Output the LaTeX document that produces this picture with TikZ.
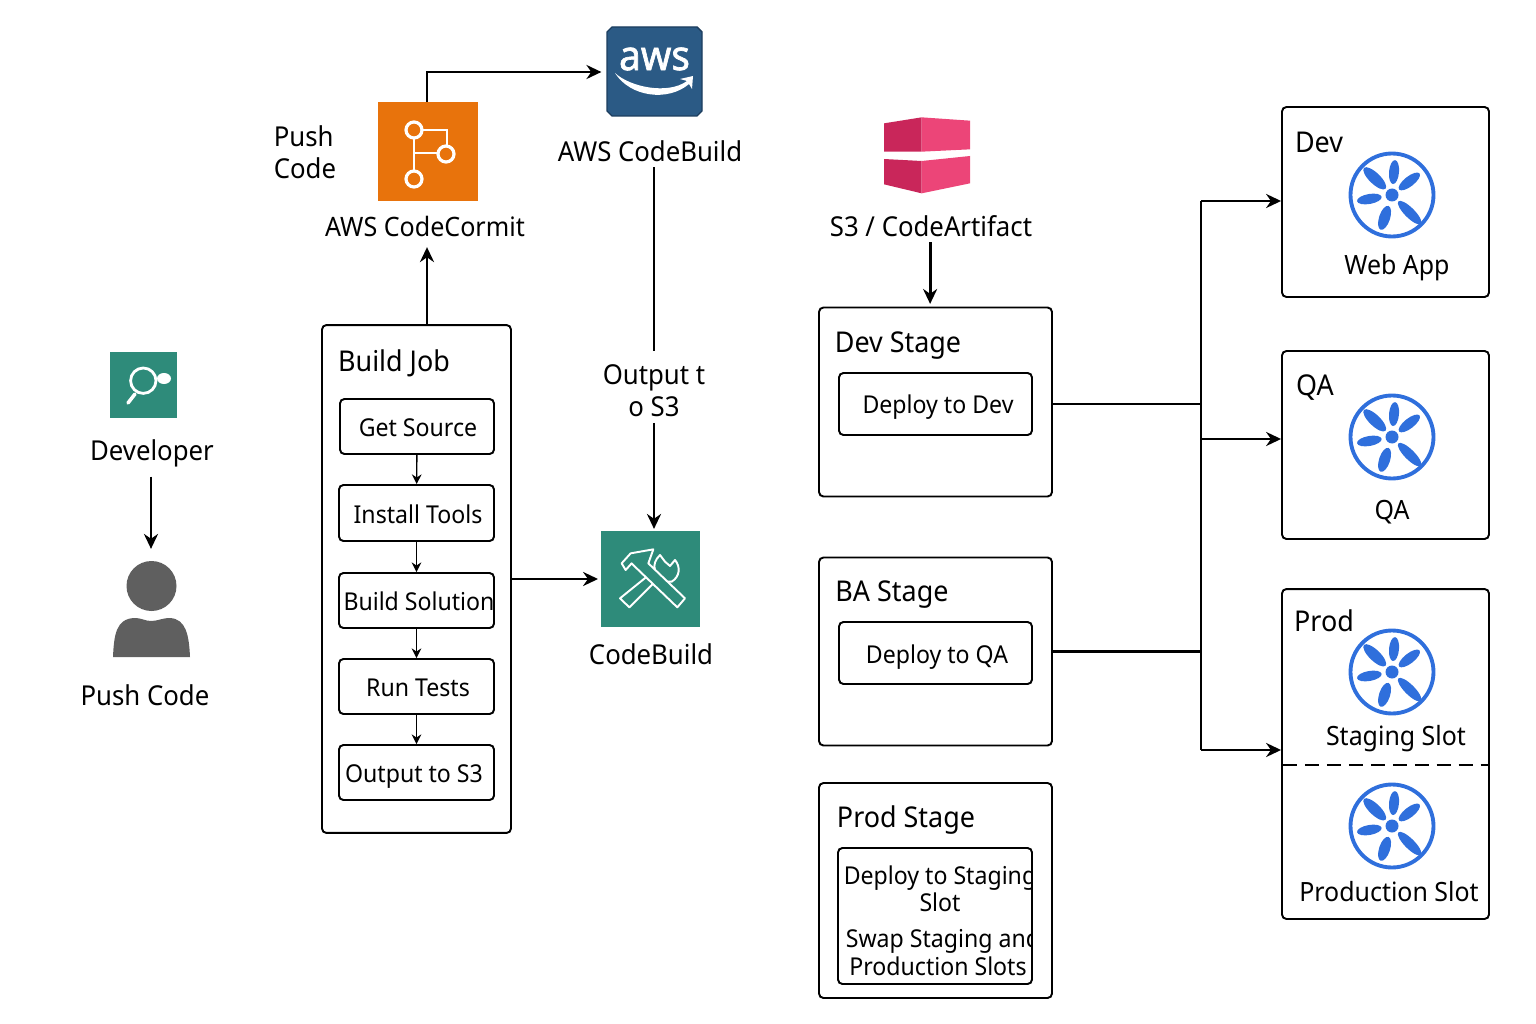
\documentclass[tikz,border=0pt]{standalone}
\usepackage{fontspec}
\setmainfont[FakeStretch=0.94]{Noto Sans}
\newfontfamily\awsfont[FakeBold=1.6,FakeStretch=0.94]{Noto Sans}
\usetikzlibrary{arrows.meta}
\definecolor{tealicon}{HTML}{2E8B7A}
\definecolor{orangeicon}{HTML}{E8730C}
\definecolor{awsblue}{HTML}{2B5A85}
\definecolor{awsdark}{HTML}{1C3D5E}
\definecolor{wheelblue}{HTML}{2F6FDC}
\definecolor{personfill}{HTML}{5F5F5F}
\definecolor{bucketdark}{HTML}{C9265A}
\definecolor{bucketlight}{HTML}{EC4578}
\tikzset{
  box/.style={draw=black,line width=1.1pt,rounded corners=2.5pt,inner sep=0pt},
  txt/.style={inner sep=0pt,align=center,font=\fontsize{15.6}{15.9}\selectfont},
  head/.style={inner sep=0pt,align=center,font=\fontsize{16.3}{15.9}\selectfont},
  envtxt/.style={inner sep=0pt,align=center,font=\fontsize{15.1}{15.9}\selectfont},
  small/.style={inner sep=0pt,align=center,font=\fontsize{14}{15.6}\selectfont},
  thickarrow/.style={-{Stealth[length=8.5pt,width=8pt]},line width=1.65pt},
  thinarrow/.style={-{Stealth[length=5.5pt,width=5.5pt]},line width=0.8pt},
  wheel/.pic={
    \draw[wheelblue,line width=2.2pt] (0,0) circle (41.5);
    \fill[wheelblue] (0,0) circle (6.5);
    \foreach \ang/\dist/\len/\wid in {85/23/12/5,136/24/15/5.5,38/22/13/5,190/23/12.5/5,252/24/12.5/5.5,315/25/16/5}
      \fill[wheelblue,rotate=\ang] (\dist,0) ellipse ({\len} and {\wid});
  }
}
\begin{document}
\begin{tikzpicture}[x=0.02cm,y=-0.02cm]
  \useasboundingbox (0,0) rectangle (1536,1024);

  % Developer side
  \node[fill=tealicon,minimum width=1.34cm,minimum height=1.32cm,inner sep=0pt] (DevIcon) at (143.5,385) {};
  \draw[white,line width=1.6pt] (143.3,380.7) circle (12.7);
  \fill[white] (164,378.5) ellipse (7 and 5.5);
  \draw[white,line width=2pt,line cap=round] (135,394) -- (128,403);
  \node[txt] (DevLabel) at (152,453) {Developer};
  \node[minimum width=1.54cm,minimum height=1.9cm,inner sep=0pt] (Person) at (151,609) {};
  \fill[personfill] (151.5,586) circle (25);
  \fill[personfill] (113,657) .. controls (114,635) and (116,619) .. (134,618)
    .. controls (142,618) and (145,621) .. (151,621) .. controls (158,621) and (162,618) .. (170,618)
    .. controls (186,619) and (189,635) .. (190,657) -- cycle;
  \node[txt] (PushLabel) at (145,695) {Push Code};
  \draw[thickarrow] ([yshift=-5.5pt]DevLabel.south -| Person.north) -- ([yshift=7pt]Person.north);

  % CodeCommit
  \node[fill=orangeicon,minimum width=2cm,minimum height=1.98cm,inner sep=0pt] (CommitIcon) at (428,151.5) {};
  \draw[white,line width=1.6pt] (414,130) -- (414,179) (414,130) -- (447,130) -- (447,154) (414,153) -- (447,153);
  \foreach \cx/\cy in {414/130,446/154,414/179}
    \draw[white,fill=orangeicon,line width=1.8pt] (\cx,\cy) circle (8);
  \node[txt,align=left] (PushCode) at (305,152) {Push\\[2.5pt]Code};
  \node[txt,font=\fontsize{15.2}{15.9}\selectfont] (CommitLabel) at (425,226) {AWS CodeCormit};
  \coordinate (CommitUp) at (427,72);

  % AWS CodeBuild
  \node[minimum width=1.9cm,minimum height=1.78cm,inner sep=0pt] (AwsIcon) at (654.5,71.5) {};
  \filldraw[draw=awsdark,fill=awsblue,line width=0.8pt] (612,27) -- (697,27) -- (702,32) -- (702,111) -- (697,116) -- (612,116) -- (607,111) -- (607,32) -- cycle;
  \node[white,inner sep=0pt,font=\awsfont\fontsize{23.5}{25}\selectfont] (AwsText) at (654.5,59) {aws};
  \fill[white] (615,73) .. controls (630,87) and (668,95) .. (687,81) -- (680,79) -- (693,76) -- (692,89) -- (689,84)
    .. controls (668,102) and (630,97) .. (615,73) -- cycle;
  \node[txt] (AwsLabel) at (650,151) {AWS CodeBuild};
  \node[txt] (OutputLabel) at (654,391) {Output t\\[2.5pt]o S3};

  % CodeBuild
  \node[fill=tealicon,minimum width=1.98cm,minimum height=1.92cm,inner sep=0pt] (BuildIcon) at (650.5,579) {};
  \begin{scope}[shift={(590,520)},scale=1/3,line width=1.1pt,draw=white,fill=tealicon,line join=round]
    \filldraw (90,235) -- (118,262) -- (195,185) -- (245,185) .. controls (270,170) and (272,140) .. (255,120)
      -- (240,138) -- (225,125) -- (210,105) .. controls (195,120) and (190,135) .. (195,150) -- cycle;
    \filldraw (262,262) -- (285,235) -- (175,130) -- (190,88) -- (122,100) -- (95,130) -- (107,150) -- (125,130) -- (140,145) -- cycle;
  \end{scope}
  \node[txt] (BuildLabel) at (651,654) {CodeBuild};

  % Build job
  \node[box,minimum width=3.78cm,minimum height=10.16cm] (BuildJob) at (416.5,579) {};
  \node[head] (BuildJobLabel) at (394,363) {Build Job};
  \node[box,minimum width=3.08cm,minimum height=1.1cm] (GetSource) at (417,426.5) {};
  \node[small] at (418,428) {Get Source};
  \node[box,minimum width=3.1cm,minimum height=1.12cm] (InstallTools) at (416.5,513) {};
  \node[small] at (418,514) {Install Tools};
  \node[box,minimum width=3.1cm,minimum height=1.1cm] (BuildSolution) at (416.5,600.5) {};
  \node[small] at (419,601) {Build Solution};
  \node[box,minimum width=3.1cm,minimum height=1.1cm] (RunTests) at (416.5,686.5) {};
  \node[small] at (418,688) {Run Tests};
  \node[box,minimum width=3.1cm,minimum height=1.1cm] (OutputS3) at (416.5,772.5) {};
  \node[small] at (414,777) {Output to S3};

  \draw[thinarrow] (GetSource) -- (InstallTools);
  \draw[thinarrow] (InstallTools) -- (BuildSolution);
  \draw[thinarrow] (BuildSolution) -- (RunTests);
  \draw[thinarrow] (RunTests) -- (OutputS3);

  \draw[thickarrow] (BuildJob.north -| CommitUp) -- ([yshift=-6pt]CommitLabel.south -| CommitUp);
  \draw[thickarrow] (CommitIcon.north -| CommitUp) -- (CommitUp) -- ([xshift=-3pt]AwsIcon.west |- CommitUp);
  \draw[line width=1.2pt] ([yshift=-3pt]AwsLabel.south -| OutputLabel.north) -- ([yshift=7.5pt]OutputLabel.north);
  \draw[thickarrow] ([yshift=-3pt]OutputLabel.south) -- ([yshift=1pt]OutputLabel.south |- BuildIcon.north);
  \draw[thickarrow] (BuildJob.east) -- ([xshift=-1.5pt]BuildIcon.west);

  % S3 icon
  \begin{scope}[shift={(870,105)},scale=1/3]
    \fill[bucketdark] (42,55) -- (155,37) -- (155,140) -- (42,140) -- cycle;
    \fill[bucketlight] (155,37) -- (300,47) -- (300,133) -- (155,140) -- cycle;
    \fill[bucketdark] (42,162) -- (155,168) -- (155,265) -- (42,238) -- cycle;
    \fill[bucketlight] (155,168) -- (300,153) -- (300,235) -- (155,265) -- cycle;
  \end{scope}
  \node[txt] (S3Label) at (931,226) {S3 / CodeArtifact};

  % Stages
  \node[box,minimum width=4.66cm,minimum height=3.78cm] (DevStage) at (935.5,402) {};
  \node[head] at (898,346) {Dev Stage};
  \node[box,minimum width=3.86cm,minimum height=1.24cm] (DeployDev) at (935.5,404) {};
  \node[small] at (938,407) {Deploy to Dev};
  \node[box,minimum width=4.66cm,minimum height=3.76cm] (BaStage) at (935.5,651.5) {};
  \node[head] at (892,595) {BA Stage};
  \node[box,minimum width=3.86cm,minimum height=1.24cm] (DeployQa) at (935.5,653) {};
  \node[small] at (937,657) {Deploy to QA};
  \node[box,minimum width=4.66cm,minimum height=4.3cm] (ProdStage) at (935.5,890.5) {};
  \node[head] at (906,820) {Prod Stage};
  \node[box,minimum width=3.88cm,minimum height=2.72cm] (DeployProd) at (935,916) {};
  \begin{scope}
    \clip (838,848) rectangle (1032,984);
    \node[small] at (940,889) {Deploy to Staging\\Slot};
    \node[small] at (943,941) {Swap Staging and};
    \node[small] at (938,966) {Production Slots};
  \end{scope}

  \draw[thickarrow] ([yshift=-3pt,xshift=-0.5pt]S3Label.south) -- ([yshift=1.5pt,xshift=-0.5pt]DevStage.north -| S3Label.south);

  % Environments
  \node[box,minimum width=4.14cm,minimum height=3.8cm] (DevEnv) at (1385.5,202) {};
  \node[head] at (1319,142) {Dev};
  \pic at (1392,195) {wheel};
  \node[envtxt] at (1397,268) {Web App};
  \node[box,minimum width=4.14cm,minimum height=3.76cm] (QaEnv) at (1385.5,445) {};
  \node[head] at (1315,388) {QA};
  \pic at (1392,437) {wheel};
  \node[envtxt] at (1392,512) {QA};
  \node[box,minimum width=4.14cm,minimum height=6.6cm] (ProdEnv) at (1385.5,754) {};
  \node[head] at (1324,621) {Prod};
  \pic at (1392,672) {wheel};
  \node[envtxt] at (1396,739) {Staging Slot};
  \coordinate (SlotLeft) at (1283,765);
  \coordinate (SlotRight) at (1488,765);
  \draw[dash pattern=on 8pt off 4.5pt,line width=1.1pt] (SlotLeft) -- (SlotRight);
  \pic at (1392,826) {wheel};
  \node[envtxt] at (1389,892) {Production Slot};

  % Bus to the environments
  \coordinate (BusTop) at (1201,201);
  \coordinate (BusQa) at (1201,439);
  \coordinate (BusProd) at (1201,750);
  \draw[line width=1.6pt] (DevStage.east |- DeployDev) -- (DeployDev -| BusTop);
  \draw[line width=1.6pt] (BaStage.east) -- (BaStage -| BusTop);
  \draw[line width=1.6pt] (BusTop) -- (BusProd);
  \draw[thickarrow] (BusTop) -- (BusTop -| DevEnv.west);
  \draw[thickarrow] (BusQa) -- (BusQa -| QaEnv.west);
  \draw[thickarrow] (BusProd) -- (BusProd -| ProdEnv.west);
\end{tikzpicture}
\end{document}
